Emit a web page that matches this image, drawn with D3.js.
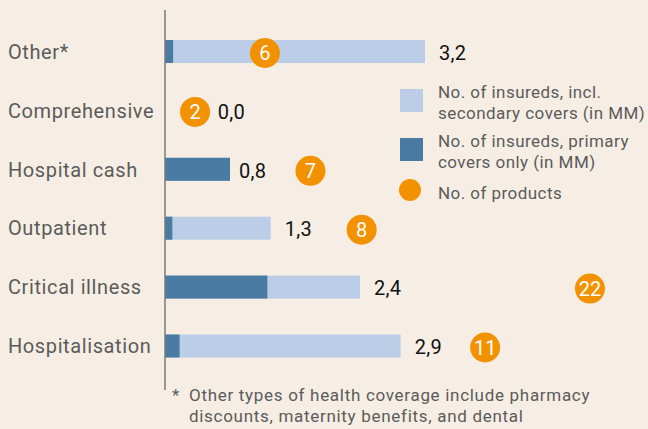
<!DOCTYPE html>
<html>
<head>
<meta charset="utf-8">
<script src="https://cdn.jsdelivr.net/npm/d3@7"></script>
<style>
  html, body { margin: 0; padding: 0; background: #f6eee4; }
  svg { display: block; }
  text { font-family: Roboto, "Noto Sans", sans-serif; }
</style>
</head>
<body>
<svg id="chart" width="648" height="429"></svg>
<script>
// Health coverage by type
const categories = ["Other*", "Comprehensive", "Hospital cash", "Outpatient", "Critical illness", "Hospitalisation"];
const totalInsureds = [3.2, 0.0, 0.8, 1.3, 2.4, 2.9];      // incl. secondary covers (MM)
const primaryInsureds = [0.1, 0.0, 0.8, 0.09, 1.26, 0.18]; // primary covers only (MM)
const valueLabels = ["3,2", "0,0", "0,8", "1,3", "2,4", "2,9"];
const productCounts = [6, 2, 7, 8, 22, 11];

// where each product badge sits, in units of the x scale
const badgeAnchor = [1.23, 0.37, 1.79, 2.42, 5.23, 3.94];

const legendItems = [
  { kind: "rect", color: "#bccde7", lines: ["No. of insureds, incl.", "secondary covers (in MM)"] },
  { kind: "rect", color: "#4a7ba2", lines: ["No. of insureds, primary", "covers only (in MM)"] },
  { kind: "circle", color: "#f39200", lines: ["No. of products"] }
];
const footnote = ["Other types of health coverage include pharmacy", "discounts, maternity benefits, and dental"];

const svg = d3.select("#chart");
const x = d3.scaleLinear().domain([0, 3.2]).range([165, 425]);
const y = d3.scalePoint().domain(categories).range([51.5, 346]);
const barH = 23;
const grey = "#5b5b5b";

const rows = categories.map((c, i) => ({
  cat: c, total: totalInsureds[i], primary: primaryInsureds[i],
  label: valueLabels[i], products: productCounts[i], anchor: badgeAnchor[i]
}));

// category labels
svg.append("g").selectAll("text").data(rows).join("text")
  .attr("x", 8).attr("y", d => y(d.cat))
  .attr("dy", "0.36em")
  .attr("font-size", 20).attr("letter-spacing", 0.6).attr("fill", grey)
  .text(d => d.cat);

// total bars (light)
svg.append("g").selectAll("rect").data(rows.filter(d => d.total > 0)).join("rect")
  .attr("x", x(0)).attr("y", d => y(d.cat) - barH / 2)
  .attr("width", d => x(d.total) - x(0)).attr("height", barH)
  .attr("fill", "#bccde7");

// primary bars (dark)
svg.append("g").selectAll("rect").data(rows.filter(d => d.primary > 0)).join("rect")
  .attr("x", x(0)).attr("y", d => y(d.cat) - barH / 2)
  .attr("width", d => x(d.primary) - x(0)).attr("height", barH)
  .attr("fill", "#4a7ba2");

// axis line
svg.append("line")
  .attr("x1", x(0)).attr("x2", x(0)).attr("y1", 10).attr("y2", 390)
  .attr("stroke", "#7a7a7a").attr("stroke-width", 1.5);

// value labels
svg.append("g").selectAll("text").data(rows).join("text")
  .attr("x", d => d.total > 0 ? x(d.total) + (d.total < 1 ? 9 : 14) : x(0.65))
  .attr("y", d => y(d.cat) + 1)
  .attr("dy", "0.36em")
  .attr("font-size", 20).attr("letter-spacing", 0.3).attr("fill", "#111")
  .text(d => d.label);

// product badges
const badges = svg.append("g").selectAll("g").data(rows).join("g")
  .attr("transform", d => `translate(${x(d.anchor)},${y(d.cat) + 1.5})`);
badges.append("circle").attr("r", 15).attr("fill", "#f39200");
badges.append("text")
  .attr("text-anchor", "middle").attr("dy", "0.36em")
  .attr("font-size", 20).attr("fill", "#fff")
  .text(d => d.products);

// legend
const legend = svg.append("g").attr("transform", "translate(400,89)");
const rowY = [0, 49, 90];
legendItems.forEach((item, i) => {
  const g = legend.append("g").attr("transform", `translate(0,${rowY[i]})`);
  if (item.kind === "rect") {
    g.append("rect").attr("width", 23).attr("height", 23).attr("fill", item.color);
  } else {
    g.append("circle").attr("cx", 10).attr("cy", 11).attr("r", 11).attr("fill", item.color);
  }
  g.selectAll("text").data(item.lines).join("text")
    .attr("x", 38).attr("y", (d, j) => (item.lines.length === 1 ? 14 : 3 + j * 21))
    .attr("dy", "0.36em")
    .attr("font-size", 17).attr("letter-spacing", 0.45).attr("fill", grey)
    .text(d => d);
});

// footnote
const fn = svg.append("g");
fn.append("text").attr("x", 172).attr("y", 395).attr("dy", "0.36em")
  .attr("font-size", 17).attr("fill", grey).text("*");
fn.selectAll("text.line").data(footnote).join("text").attr("class", "line")
  .attr("x", 189).attr("y", (d, i) => 395 + i * 21).attr("dy", "0.36em")
  .attr("font-size", 17).attr("letter-spacing", 0.7).attr("fill", grey).text(d => d);
</script>
</body>
</html>
